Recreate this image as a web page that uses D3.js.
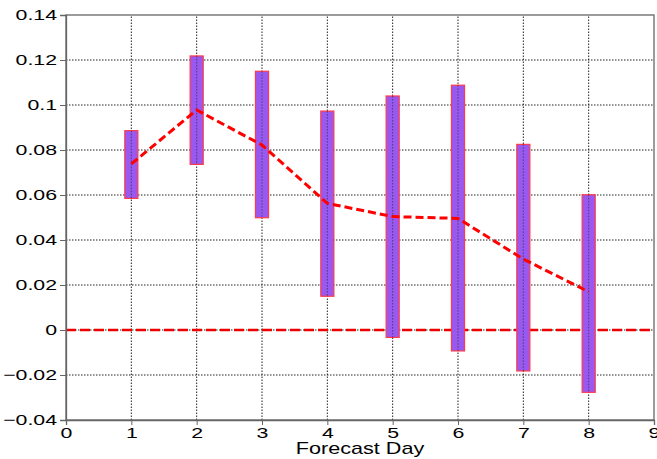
<!DOCTYPE html>
<html>
<head>
<meta charset="utf-8">
<script src="https://cdn.jsdelivr.net/npm/d3@7"></script>
<style>
  html, body { margin: 0; padding: 0; background: #fff; }
  svg { display: block; }
  text { font-family: "Liberation Sans", Arial, sans-serif; }
</style>
</head>
<body>
<svg id="chart" width="657" height="459"></svg>
<script>
// Forecast days and per-day range (low/high) with mean
const days = [1, 2, 3, 4, 5, 6, 7, 8];
const lows = [0.0585, 0.0736, 0.0499, 0.0150, -0.0033, -0.0093, -0.0182, -0.0277];
const highs = [0.0886, 0.1218, 0.1150, 0.0973, 0.1040, 0.1088, 0.0825, 0.0601];
const means = [0.0738, 0.0978, 0.0822, 0.0563, 0.0504, 0.0496, 0.0315, 0.0170];
const xTicks = [0, 1, 2, 3, 4, 5, 6, 7, 8, 9];
const yTicks = [-0.04, -0.02, 0, 0.02, 0.04, 0.06, 0.08, 0.1, 0.12, 0.14];

const svg = d3.select("#chart");
const m = { left: 66, right: 3, top: 15, bottom: 39 };
const W = 657, H = 459;
const stretch = 1.42; // wide lettering for axis text

const x = d3.scaleLinear().domain([0, 9]).range([m.left, W - m.right]);
const y = d3.scaleLinear().domain([-0.04, 0.14]).range([H - m.bottom, m.top]);

// grid lines
const grid = svg.append("g");
grid.selectAll("line.v").data(xTicks.slice(1, -1)).join("line")
  .attr("x1", d => x(d)).attr("x2", d => x(d))
  .attr("y1", y(-0.04)).attr("y2", y(0.14))
  .attr("stroke", "#222").attr("stroke-width", 1).attr("stroke-dasharray", "1.5,1.5");
grid.selectAll("line.h").data(yTicks.slice(1, -1)).join("line")
  .attr("x1", x(0)).attr("x2", x(9))
  .attr("y1", d => y(d)).attr("y2", d => y(d))
  .attr("stroke", "#222").attr("stroke-width", 1).attr("stroke-dasharray", "1.5,1.5");

// zero reference line
svg.append("line")
  .attr("x1", x(0)).attr("x2", x(9))
  .attr("y1", y(0)).attr("y2", y(0))
  .attr("stroke", "#ee0000").attr("stroke-width", 2.5)
  .attr("stroke-dasharray", "10,4");

// range bars
const bw = x(0.2) - x(0);
svg.append("g").selectAll("rect").data(days).join("rect")
  .attr("x", d => x(d) - bw / 2)
  .attr("width", bw)
  .attr("y", (d, i) => y(highs[i]))
  .attr("height", (d, i) => y(lows[i]) - y(highs[i]))
  .attr("fill", "#9958f0")
  .attr("stroke", "#ff3a4a").attr("stroke-width", 1.2);

// dotted verticals showing through the bars
svg.append("g").selectAll("line").data(days).join("line")
  .attr("x1", d => x(d)).attr("x2", d => x(d))
  .attr("y1", (d, i) => y(highs[i])).attr("y2", (d, i) => y(lows[i]))
  .attr("stroke", "#333").attr("stroke-width", 1).attr("stroke-dasharray", "1.5,1.5")
  .attr("opacity", 0.7);

// mean line
svg.append("path")
  .datum(days)
  .attr("d", d3.line().x(d => x(d)).y((d, i) => y(means[i])))
  .attr("fill", "none")
  .attr("stroke", "#ff0000").attr("stroke-width", 3)
  .attr("stroke-dasharray", "8,4");

// frame
svg.append("rect")
  .attr("x", x(0)).attr("y", y(0.14))
  .attr("width", x(9) - x(0)).attr("height", y(-0.04) - y(0.14))
  .attr("fill", "none").attr("stroke", "#666").attr("stroke-width", 1.3);

// axes
const yAxis = d3.axisLeft(y).tickValues(yTicks).tickSize(6).tickPadding(3)
  .tickFormat(d => d3.format("")(+d.toFixed(2)));
const gy = svg.append("g").attr("transform", `translate(${x(0)},0)`).call(yAxis);
const xAxis = d3.axisBottom(x).tickValues(xTicks).tickSize(5).tickPadding(2);
const gx = svg.append("g").attr("transform", `translate(0,${y(-0.04)})`).call(xAxis);

[gy, gx].forEach(g => {
  g.select(".domain").attr("stroke", "#666").attr("stroke-width", 1.3);
  g.selectAll(".tick line").attr("stroke", "#666");
  g.selectAll(".tick text").attr("fill", "#000")
    .style("font-family", "'Liberation Sans', Arial, sans-serif")
    .style("font-size", "15px");
});
gy.selectAll(".tick text")
  .attr("x", 0)
  .attr("transform", `translate(-9,0) scale(${stretch},1)`);
gx.selectAll(".tick text")
  .attr("transform", `scale(${stretch},1)`);

svg.append("text")
  .attr("transform", `translate(${(x(0) + x(9)) / 2},454) scale(1.35,1)`)
  .attr("text-anchor", "middle")
  .style("font-size", "16px")
  .text("Forecast Day");
</script>
</body>
</html>
